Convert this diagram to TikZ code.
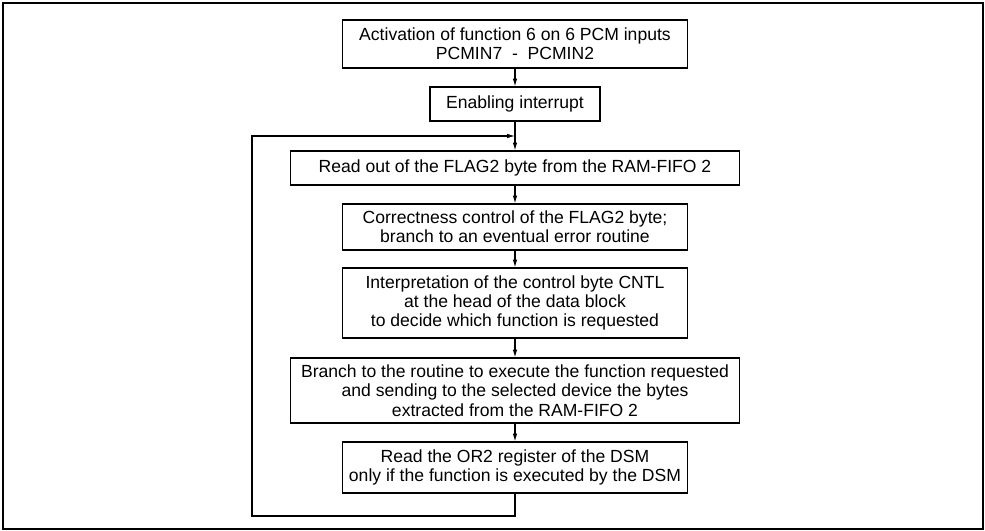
\documentclass[tikz,border=0pt]{standalone}
\usepackage{fontspec}
\setmainfont{Liberation Sans}
\usetikzlibrary{arrows.meta}

\begin{document}
\begin{tikzpicture}[x = 0.02cm, y = 0.02cm,
        stepbox/.style={rectangle, draw, line width=0.6pt, align=center, inner sep=0pt, font=\fontsize{10}{11}\selectfont},
        flow/.style={line width=0.6pt, -{Latex[length=4.5pt, width=2.6pt]}}]

        \useasboundingbox (0, 0) rectangle (985, 531);
        \draw[line width=0.9pt] (3, 2) rectangle (983, 528);

        \node[stepbox, minimum width=6.9cm, minimum height=0.96cm] at (515, 487) (act) {Activation of function 6 on 6 PCM inputs\\PCMIN7 \ - \ PCMIN2};
        \node[stepbox, minimum width=3.4cm, minimum height=0.68cm] at (515, 427) (enable) {Enabling interrupt};
        \node[stepbox, minimum width=9cm, minimum height=0.68cm] at (515, 363) (readflag) {Read out of the FLAG2 byte from the RAM-FIFO 2};
        \node[stepbox, minimum width=6.9cm, minimum height=0.92cm] at (515, 304) (check) {Correctness control of the FLAG2 byte;\\branch to an eventual error routine};
        \node[stepbox, minimum width=6.9cm, minimum height=1.4cm] at (515, 228) (interp) {Interpretation of the control byte CNTL\\at the head of the data block\\to decide which function is requested};
        \node[stepbox, minimum width=9cm, minimum height=1.3cm] at (515, 140.5) (branch) {Branch to the routine to execute the function requested\\and sending to the selected device the bytes\\extracted from the RAM-FIFO 2};
        \node[stepbox, minimum width=6.9cm, minimum height=1.02cm] at (515, 63.5) (reador) {Read the OR2 register of the DSM\\only if the function is executed by the DSM};

        \coordinate (loopbot) at (515, 15);
        \coordinate (loopleft) at (252, 15);
        \coordinate (looptop) at (252, 395);
        \coordinate (join) at (515, 395);

        \draw[flow] (act) -- (enable);
        \draw[flow] (enable) -- (readflag);
        \draw[flow] (readflag) -- (check);
        \draw[flow] (check) -- (interp);
        \draw[flow] (interp) -- (branch);
        \draw[flow] (branch) -- (reador);
        \draw[flow] (reador) -- (loopbot) -- (loopleft) -- (looptop) -- (join);
        \end{tikzpicture}
\end{document}
